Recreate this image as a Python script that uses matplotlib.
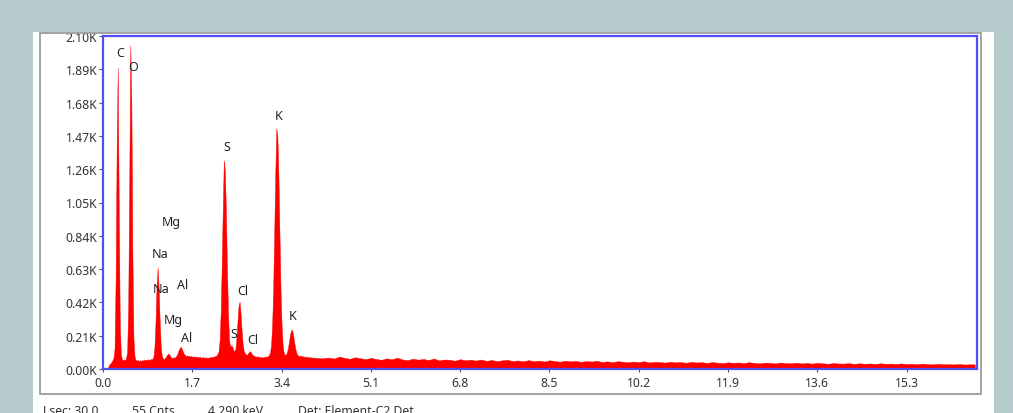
import numpy as np
import matplotlib.pyplot as plt
from matplotlib.patches import Rectangle

plt.rcParams['font.family'] = ['Noto Sans', 'DejaVu Sans']

# counts per 0.02 keV channel, 0.00 - 4.20 keV
fine_counts = [
    0, 0, 0, 0, 0, 12, 28, 36, 42, 55,
    70, 130, 560, 1400, 1900, 1010, 280, 95, 62, 55,
    60, 52, 70, 110, 400, 1200, 2040, 1680, 720, 190,
    80, 58, 52, 57, 50, 55, 49, 56, 52, 60,
    54, 58, 55, 62, 57, 60, 64, 62, 78, 140,
    300, 520, 640, 510, 295, 140, 82, 66, 62, 70,
    78, 90, 98, 92, 80, 72, 68, 74, 70, 78,
    85, 100, 118, 132, 140, 128, 110, 96, 88, 82,
    86, 80, 84, 78, 82, 76, 80, 78, 74, 80,
    76, 72, 78, 74, 70, 76, 72, 70, 74, 68,
    72, 70, 76, 72, 78, 75, 80, 82, 86, 95,
    110, 180, 350, 650, 1010, 1316, 1250, 1000, 640, 350,
    185, 140, 150, 142, 120, 112, 125, 195, 297, 396,
    424, 350, 240, 155, 115, 98, 92, 90, 98, 108,
    112, 102, 92, 86, 82, 80, 76, 82, 74, 78,
    72, 76, 70, 78, 74, 80, 76, 82, 88, 102,
    153, 274, 508, 860, 1230, 1518, 1470, 1220, 850, 505,
    275, 155, 104, 88, 92, 103, 130, 170, 214, 243,
    247, 214, 170, 130, 103, 90, 84, 80, 86, 78,
    82, 76, 80, 74, 79, 72, 77, 71, 75, 70,
    74, 69, 73, 68, 72, 67, 71, 66, 70, 65, 69,
]

# counts per 0.1 keV, 4.3 - 16.6 keV
tail_counts = [
    72, 66, 78, 70, 64, 74, 68, 62,
    70, 63, 58, 67, 61, 72, 60, 56, 65, 59,
    63, 57, 66, 54, 60, 58, 52, 62, 55, 59,
    53, 60, 51, 57, 49, 55, 58, 50, 54, 48,
    56, 49, 53, 47, 55, 50, 46, 52, 48, 51,
    45, 50, 47, 52, 44, 48, 43, 49, 46, 42,
    47, 43, 49, 41, 45, 44, 40, 46, 42, 44,
    39, 45, 41, 43, 38, 44, 40, 37, 42, 39,
    41, 37, 43, 38, 36, 40, 39, 35, 41, 37,
    36, 40, 35, 38, 34, 39, 36, 33, 37, 35,
    34, 37, 32, 36, 33, 35, 31, 36, 33, 34,
    32, 35, 31, 33, 30, 34, 31, 29, 33, 30,
    31, 29, 32, 28, 30, 29,
]

peak_names = ['C', 'O', 'S', 'K', 'Mg', 'Na', 'Na', 'Al', 'Cl', 'Mg', 'Al', 'S', 'Cl', 'K']
label_kev = [0.32, 0.57, 2.35, 3.35, 1.31, 1.09, 1.10, 1.52, 2.66, 1.33, 1.60, 2.50, 2.86, 3.61]
label_cnts = [1995, 1910, 1405, 1600, 930, 730, 510, 530, 495, 315, 200, 225, 188, 335]

x_ticks = [0.0, 1.7, 3.4, 5.1, 6.8, 8.5, 10.2, 11.9, 13.6, 15.3]
y_ticks = [0, 210, 420, 630, 840, 1050, 1260, 1470, 1680, 1890, 2100]

status = [('Lsec: 30.0', 43), ('55 Cnts', 132), ('4.290 keV', 208), ('Det: Element-C2 Det', 298)]

fine_kev = np.arange(len(fine_counts)) * 0.02
tail_kev = 4.3 + np.arange(len(tail_counts)) * 0.1
kev = np.concatenate([fine_kev, tail_kev])
counts = np.array(fine_counts + tail_counts, dtype=float)

W, H = 1013, 414
bg = '#b6cccc'

fig = plt.figure(figsize=(W / 100, H / 100), dpi=100)
fig.patch.set_facecolor(bg)

# white window and its grey frame
fig.add_artist(Rectangle((33 / W, 0), (994 - 33) / W, (H - 33) / H,
                         transform=fig.transFigure, facecolor='white',
                         edgecolor='none', zorder=-5))
fig.add_artist(Rectangle((40 / W, 1 - 395 / H), (981 - 40) / W, (395 - 34) / H,
                         transform=fig.transFigure, fill=False,
                         edgecolor='#9c9c9c', lw=1.3, zorder=1))

ax = fig.add_axes([103 / W, 1 - 370 / H, (977 - 103) / W, 333 / H])
ax.fill_between(kev, counts, 0, color='#ff0000', lw=0.3)
ax.set_xlim(0, 16.64)
ax.set_ylim(0, 2100)

ax.set_xticks(x_ticks)
ax.set_xticklabels([f'{v:.1f}' for v in x_ticks])
ax.set_yticks(y_ticks)
ax.set_yticklabels([f'{v / 1000:.2f}K' for v in y_ticks])
ax.tick_params(axis='y', length=3, width=0.8, color='#555555', pad=1,
               labelsize=8.8, labelcolor='#333333')
ax.tick_params(axis='x', length=2, width=0.8, color='#555555', pad=3,
               labelsize=8.8, labelcolor='#333333')

for s in ax.spines.values():
    s.set_color('#4f4ff2')
    s.set_linewidth(1.6)

for name, x, y in zip(peak_names, label_kev, label_cnts):
    ax.text(x, y, name, ha='center', va='center', fontsize=9, color='#222222')

for txt, xp in status:
    fig.text(xp / W, 1 - 405 / H, txt, ha='left', va='top', fontsize=8.8, color='#333333')

# background strip above the window hides the clipped top tick label
fig.add_artist(Rectangle((0, 1 - 33 / H), 1, 33 / H, transform=fig.transFigure,
                         facecolor=bg, edgecolor='none', zorder=10))

fig.savefig('out.png', dpi=100, facecolor=fig.get_facecolor())
